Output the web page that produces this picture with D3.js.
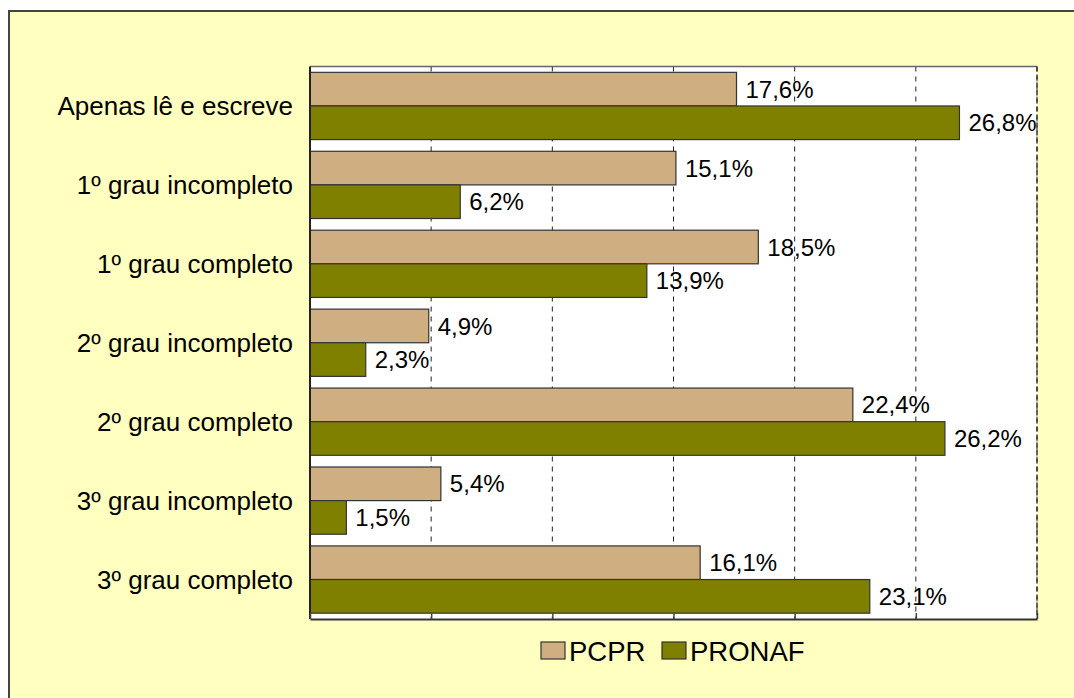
<!DOCTYPE html>
<html>
<head>
<meta charset="utf-8">
<script src="https://cdn.jsdelivr.net/npm/d3@7"></script>
<style>
  body { margin: 0; background: #ffffff; }
  text { font-family: "Liberation Sans", Arial, sans-serif; fill: #000; }
</style>
</head>
<body>
<div id="chart"></div>
<script>
// Data
const categories = [
    "Apenas lê e escreve",
    "1º grau incompleto",
    "1º grau completo",
    "2º grau incompleto",
    "2º grau completo",
    "3º grau incompleto",
    "3º grau completo"
];
const seriesNames = ["PCPR", "PRONAF"];
const pcprValues = [17.6, 15.1, 18.5, 4.9, 22.4, 5.4, 16.1];
const pronafValues = [26.8, 6.2, 13.9, 2.3, 26.2, 1.5, 23.1];
const xTicks = [0, 5, 10, 15, 20, 25, 30];

const colors = { PCPR: "#CFAE81", PRONAF: "#808000" };

const W = 1074, H = 698;
const plot = { left: 310, right: 1037, top: 66.5, bottom: 619 };

const svg = d3.select("#chart")
    .append("svg")
    .attr("width", W)
    .attr("height", H);

// Outer chart area
svg.append("rect")
    .attr("x", 9).attr("y", 11)
    .attr("width", W + 20).attr("height", H + 20)
    .attr("fill", "#FFFFC0")
    .attr("stroke", "#444")
    .attr("stroke-width", 2);

// Plot area
svg.append("rect")
    .attr("x", plot.left).attr("y", plot.top)
    .attr("width", plot.right - plot.left)
    .attr("height", plot.bottom - plot.top)
    .attr("fill", "#ffffff");

const x = d3.scaleLinear()
    .domain([0, 30])
    .range([plot.left, plot.right]);

const y = d3.scaleBand()
    .domain(categories)
    .range([plot.top, plot.bottom])
    .paddingInner(0.148)
    .paddingOuter(0.074);

const ySub = d3.scaleBand()
    .domain(seriesNames)
    .range([0, y.bandwidth()]);

// Gridlines (dashed)
svg.append("g")
    .selectAll("line")
    .data(xTicks.filter(d => d > 0))
    .enter()
    .append("line")
    .attr("x1", d => x(d)).attr("x2", d => x(d))
    .attr("y1", plot.top).attr("y2", plot.bottom)
    .attr("stroke", "#222")
    .attr("stroke-width", 1)
    .attr("stroke-dasharray", "5,5");

// Plot top border
svg.append("line")
    .attr("x1", plot.left).attr("x2", plot.right)
    .attr("y1", plot.top).attr("y2", plot.top)
    .attr("stroke", "#666").attr("stroke-width", 1.5);

// Bars
const rows = categories.map((c, i) => ({ cat: c, PCPR: pcprValues[i], PRONAF: pronafValues[i] }));

const groups = svg.append("g")
    .selectAll("g")
    .data(rows)
    .enter()
    .append("g")
    .attr("transform", d => `translate(0,${y(d.cat)})`);

groups.selectAll("rect")
    .data(d => seriesNames.map(s => ({ key: s, value: d[s] })))
    .enter()
    .append("rect")
    .attr("x", x(0))
    .attr("y", d => ySub(d.key))
    .attr("width", d => x(d.value) - x(0))
    .attr("height", ySub.bandwidth())
    .attr("fill", d => colors[d.key])
    .attr("stroke", "#333")
    .attr("stroke-width", 1.2);

groups.selectAll("text")
    .data(d => seriesNames.map(s => ({ key: s, value: d[s] })))
    .enter()
    .append("text")
    .attr("x", d => x(d.value) + 9)
    .attr("y", d => ySub(d.key) + ySub.bandwidth() / 2)
    .attr("dy", "0.36em")
    .style("font-size", "24px")
    .text(d => d.value.toFixed(1).replace(".", ",") + "%");

// Left axis line
svg.append("line")
    .attr("x1", plot.left).attr("x2", plot.left)
    .attr("y1", plot.top).attr("y2", plot.bottom)
    .attr("stroke", "#222").attr("stroke-width", 2);

// Bottom axis with inward ticks
const xAxis = svg.append("g")
    .attr("transform", `translate(0,${plot.bottom})`)
    .call(d3.axisBottom(x).tickValues(xTicks).tickSize(-6).tickSizeOuter(0).tickFormat(""));
xAxis.select(".domain").attr("stroke", "#333").attr("stroke-width", 2);
xAxis.selectAll(".tick line").attr("stroke", "#444").attr("stroke-width", 1.5);

// Right border (dashed)
svg.append("line")
    .attr("x1", plot.right).attr("x2", plot.right)
    .attr("y1", plot.top).attr("y2", plot.bottom)
    .attr("stroke", "#333").attr("stroke-width", 1.5)
    .attr("stroke-dasharray", "5,3");

// Category labels
svg.append("g")
    .selectAll("text")
    .data(categories)
    .enter()
    .append("text")
    .attr("x", 293)
    .attr("y", d => y(d) + y.bandwidth() / 2)
    .attr("dy", "0.36em")
    .attr("text-anchor", "end")
    .style("font-size", "26px")
    .text(d => d);

// Legend
const legendX = [541, 662];
const legend = svg.append("g");
seriesNames.forEach((s, i) => {
    legend.append("rect")
        .attr("x", legendX[i]).attr("y", 642)
        .attr("width", 24).attr("height", 17)
        .attr("fill", colors[s])
        .attr("stroke", "#333")
        .attr("stroke-width", 1.2);
    legend.append("text")
        .attr("x", legendX[i] + 28)
        .attr("y", 661)
        .style("font-size", "27.5px")
        .text(s);
});
</script>
</body>
</html>
